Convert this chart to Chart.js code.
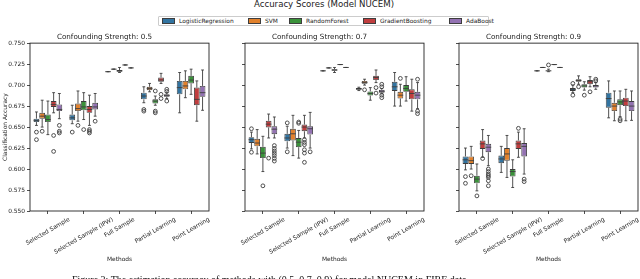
<!DOCTYPE html>
<html>
<head>
<meta charset="utf-8">
<script src="https://cdn.jsdelivr.net/npm/chart.js@4/dist/chart.umd.min.js"></script>
<style>
  html, body { margin: 0; padding: 0; background: #fff; }
  #page { position: relative; width: 640px; height: 279px; overflow: hidden; font-family: "DejaVu Sans", sans-serif; color: #222; }
  canvas { position: absolute; top: 30px; }
  #title { position: absolute; left: 0; width: 648px; top: -1px; text-align: center; font-size: 8.6px; line-height: 11px; }
  #legend { position: absolute; left: 158px; top: 16px; width: 329px; height: 8px; border: 0.7px solid #ccc; border-radius: 1px; font-size: 5.9px; line-height: 8px; }
  #legend span.item { position: absolute; top: 0; white-space: nowrap; }
  #legend span.patch { display: inline-block; width: 11px; height: 3.5px; border: 0.6px solid #3d3d3d; vertical-align: middle; margin-right: 4px; position: relative; top: -0.5px; }
  #caption { position: absolute; left: 72px; top: 274.5px; font-family: "Liberation Serif", serif; font-size: 10px; line-height: 10px; white-space: nowrap; color: #111; }
</style>
</head>
<body>
<div id="page">
  <div id="title">Accuracy Scores (Model NUCEM)</div>
  <div id="legend"></div>
  <canvas id="c1" width="212" height="249" style="left:0px"></canvas>
  <canvas id="c2" width="212" height="249" style="left:215px"></canvas>
  <canvas id="c3" width="212" height="249" style="left:429px"></canvas>
  <div id="caption">Figure 2: The estimation accuracy of methods with (0.5, 0.7, 0.9) for model NUCEM in FIRE data.</div>
</div>
<script>
const methods = ['Selected Sample', 'Selected Sample (IPW)', 'Full Sample', 'Partial Learning', 'Point Learning'];
const models = ['LogisticRegression', 'SVM', 'RandomForest', 'GradientBoosting', 'AdaBoost'];
const strengths = ['0.5', '0.7', '0.9'];
const yTicks = [0.55, 0.575, 0.6, 0.625, 0.65, 0.675, 0.7, 0.725, 0.75];

// [lower whisker, q1, median, q3, upper whisker] per method, one row per model
const box05 = [
  [[0.652, 0.656, 0.658, 0.660, 0.668], [0.654, 0.658, 0.661, 0.665, 0.676], [0.716, 0.716, 0.716, 0.716, 0.716], [0.679, 0.683, 0.687, 0.691, 0.698], [0.667, 0.689, 0.697, 0.705, 0.715]],
  [[0.650, 0.660, 0.663, 0.667, 0.682], [0.657, 0.669, 0.672, 0.678, 0.693], [0.719, 0.719, 0.719, 0.719, 0.719], [0.692, 0.694, 0.696, 0.698, 0.702], [0.685, 0.695, 0.699, 0.705, 0.717]],
  [[0.641, 0.656, 0.659, 0.665, 0.681], [0.659, 0.670, 0.674, 0.681, 0.691], [0.715, 0.716, 0.717, 0.718, 0.721], [0.676, 0.678, 0.681, 0.683, 0.687], [0.689, 0.702, 0.706, 0.711, 0.719]],
  [[0.667, 0.674, 0.677, 0.681, 0.691], [0.652, 0.667, 0.671, 0.675, 0.688], [0.724, 0.724, 0.724, 0.724, 0.724], [0.702, 0.704, 0.706, 0.709, 0.714], [0.657, 0.676, 0.683, 0.697, 0.705]],
  [[0.660, 0.669, 0.671, 0.677, 0.690], [0.663, 0.671, 0.674, 0.679, 0.690], [0.7205, 0.7205, 0.7205, 0.7205, 0.7205], [0.684, 0.686, 0.6875, 0.689, 0.691], [0.670, 0.686, 0.691, 0.699, 0.718]]
];
const fliers05 = [
  [[0.644, 0.635], [0.644], [], [0.671, 0.669], []],
  [[0.645], [0.652], [], [], []],
  [[], [0.647], [], [0.693, 0.669, 0.667], []],
  [[0.640, 0.621], [0.647, 0.645, 0.643], [], [0.689, 0.684], []],
  [[0.652, 0.645, 0.643], [0.657], [], [0.695, 0.6925, 0.681], []]
];

const box07 = [
  [[0.624, 0.631, 0.635, 0.638, 0.644], [0.625, 0.633, 0.637, 0.642, 0.651], [0.717, 0.717, 0.717, 0.717, 0.717], [0.6935, 0.6945, 0.6955, 0.6965, 0.6975], [0.675, 0.693, 0.698, 0.704, 0.715]],
  [[0.618, 0.627, 0.631, 0.636, 0.647], [0.616, 0.634, 0.642, 0.648, 0.664], [0.7205, 0.7205, 0.7205, 0.7205, 0.7205], [0.700, 0.7015, 0.703, 0.705, 0.707], [0.675, 0.684, 0.688, 0.692, 0.701]],
  [[0.597, 0.613, 0.619, 0.6265, 0.639], [0.613, 0.626, 0.632, 0.637, 0.646], [0.715, 0.717, 0.718, 0.719, 0.721], [0.682, 0.6875, 0.690, 0.6925, 0.697], [0.681, 0.692, 0.696, 0.700, 0.710]],
  [[0.637, 0.6495, 0.6535, 0.6575, 0.6655], [0.637, 0.645, 0.650, 0.653, 0.664], [0.7245, 0.7245, 0.7245, 0.7245, 0.7245], [0.703, 0.706, 0.709, 0.711, 0.718], [0.669, 0.683, 0.690, 0.695, 0.707]],
  [[0.637, 0.6415, 0.6475, 0.651, 0.662], [0.625, 0.641, 0.648, 0.651, 0.6675], [0.721, 0.721, 0.721, 0.721, 0.721], [0.6895, 0.691, 0.6926, 0.6944, 0.696], [0.672, 0.683, 0.688, 0.692, 0.703]]
];
const fliers07 = [
  [[0.648, 0.620], [0.655, 0.6205], [], [], []],
  [[], [], [], [0.6944], [0.708]],
  [[0.580], [0.656, 0.6545], [], [], []],
  [[0.613], [0.635, 0.6317, 0.629, 0.623, 0.619, 0.608], [], [0.697, 0.6905], []],
  [[0.628, 0.6245, 0.6215, 0.6187, 0.616, 0.6127, 0.6095], [0.6205], [], [0.701, 0.698, 0.688, 0.685], [0.707, 0.669, 0.666]]
];

const box09 = [
  [[0.599, 0.606, 0.611, 0.615, 0.625], [0.596, 0.607, 0.612, 0.616, 0.627], [0.717, 0.717, 0.717, 0.717, 0.717], [0.691, 0.693, 0.695, 0.6965, 0.700], [0.661, 0.673, 0.684, 0.691, 0.705]],
  [[0.600, 0.606, 0.610, 0.615, 0.627], [0.590, 0.610, 0.618, 0.625, 0.640], [0.721, 0.721, 0.721, 0.721, 0.721], [0.701, 0.704, 0.7055, 0.707, 0.711], [0.6575, 0.669, 0.675, 0.679, 0.693]],
  [[0.574, 0.583, 0.588, 0.592, 0.606], [0.578, 0.591, 0.597, 0.600, 0.611], [0.716, 0.7165, 0.717, 0.7175, 0.719], [0.694, 0.697, 0.699, 0.701, 0.704], [0.6625, 0.676, 0.680, 0.683, 0.693]],
  [[0.614, 0.624, 0.630, 0.634, 0.647], [0.614, 0.624, 0.630, 0.634, 0.644], [0.7245, 0.7245, 0.7245, 0.7245, 0.7245], [0.698, 0.701, 0.704, 0.706, 0.710], [0.6575, 0.675, 0.681, 0.685, 0.695]],
  [[0.604, 0.620, 0.626, 0.630, 0.640], [0.594, 0.615, 0.627, 0.631, 0.648], [0.721, 0.721, 0.721, 0.721, 0.721], [0.695, 0.697, 0.699, 0.700, 0.703], [0.658, 0.669, 0.675, 0.681, 0.693]]
];
const fliers09 = [
  [[0.591, 0.583], [], [], [0.702, 0.688], []],
  [[0.592], [], [], [0.698], []],
  [[0.568], [], [0.724], [0.688], [0.6595, 0.6575]],
  [[0.6125], [0.6485], [], [0.692], []],
  [[0.600, 0.597, 0.594, 0.592, 0.590, 0.586, 0.580], [0.588, 0.585], [], [0.707, 0.705], []]
];

const colors = ['#3274a1', '#e1812c', '#3a923a', '#c03d3e', '#9372b2'];
const edge = '#3d3d3d';
const font = '"DejaVu Sans", sans-serif';

// legend
const legendX = [3, 89, 130, 204, 290];
const legend = document.getElementById('legend');
models.forEach((m, i) => {
  const s = document.createElement('span');
  s.className = 'item';
  s.style.left = legendX[i] + 'px';
  s.innerHTML = '<span class="patch" style="background:' + colors[i] + '"></span>' + m;
  legend.appendChild(s);
});

// whiskers, medians, fliers, frame and rotated x labels
const boxPlugin = {
  id: 'boxes',
  afterDatasetsDraw(chart) {
    const ctx = chart.ctx;
    const y = chart.scales.y;
    ctx.save();
    ctx.strokeStyle = edge;
    ctx.lineWidth = 0.9;
    const line = (x1, y1, x2, y2) => { ctx.beginPath(); ctx.moveTo(x1, y1); ctx.lineTo(x2, y2); ctx.stroke(); };
    chart.data.datasets.forEach((ds, di) => {
      chart.getDatasetMeta(di).data.forEach((bar, mi) => {
        const s = ds.stats[mi];
        const x = bar.x, half = bar.width / 2;
        const pLo = y.getPixelForValue(s[0]), pQ1 = y.getPixelForValue(s[1]);
        const pMed = y.getPixelForValue(s[2]), pQ3 = y.getPixelForValue(s[3]);
        const pHi = y.getPixelForValue(s[4]);
        line(x, pQ1, x, pLo);
        line(x, pQ3, x, pHi);
        line(x - half / 2, pLo, x + half / 2, pLo);
        line(x - half / 2, pHi, x + half / 2, pHi);
        line(x - half, pMed, x + half, pMed);
        ds.fliers[mi].forEach(v => {
          ctx.beginPath();
          ctx.arc(x, y.getPixelForValue(v), 1.9, 0, Math.PI * 2);
          ctx.stroke();
        });
      });
    });
    ctx.restore();
  },
  afterDraw(chart) {
    const ctx = chart.ctx;
    const a = chart.chartArea;
    ctx.save();
    ctx.strokeStyle = '#222';
    ctx.lineWidth = 0.9;
    ctx.strokeRect(a.left, a.top, a.right - a.left, a.bottom - a.top);
    const xs = chart.scales.x;
    const th = Math.PI / 6;
    ctx.font = '5.9px ' + font;
    ctx.fillStyle = '#222';
    ctx.textAlign = 'center';
    ctx.textBaseline = 'middle';
    methods.forEach((m, i) => {
      const w = ctx.measureText(m).width;
      const bh = w * Math.sin(th) + 7 * Math.cos(th);
      ctx.save();
      ctx.translate(xs.getPixelForTick(i), a.bottom + 5 + bh / 2);
      ctx.rotate(-th);
      ctx.fillText(m, 0, 0);
      ctx.restore();
    });
    ctx.restore();
  }
};

function makeChart(id, strength, boxes, fliers, first) {
  new Chart(document.getElementById(id), {
    type: 'bar',
    data: {
      labels: methods,
      datasets: models.map((m, i) => ({
        label: m,
        data: boxes[i].map(s => [s[1], s[3]]),
        stats: boxes[i],
        fliers: fliers[i],
        backgroundColor: colors[i],
        borderColor: edge,
        borderWidth: 0.9,
        borderSkipped: false,
        categoryPercentage: 0.8,
        barPercentage: 1
      }))
    },
    options: {
      responsive: false,
      animation: false,
      devicePixelRatio: 1,
      layout: { padding: { top: 0, right: 3, bottom: 0, left: 0 } },
      plugins: {
        legend: { display: false },
        tooltip: { enabled: false },
        title: {
          display: true,
          text: 'Confounding Strength: ' + strength,
          color: '#222',
          font: { family: font, size: 7.2, weight: 'normal' },
          padding: { top: 2.5, bottom: 2 }
        }
      },
      scales: {
        x: {
          offset: true,
          border: { display: false },
          grid: { drawOnChartArea: false, offset: false, color: '#222', tickLength: 3, tickWidth: 0.8 },
          ticks: { display: false },
          title: { display: true, text: 'Methods', color: '#222', font: { family: font, size: 5.9 }, padding: { top: 0, bottom: 15.5 } },
          afterFit: s => { s.height = 68; }
        },
        y: {
          min: 0.55,
          max: 0.75,
          border: { display: false },
          afterBuildTicks: s => { s.ticks = yTicks.map(v => ({ value: v })); },
          grid: { drawOnChartArea: false, color: '#222', tickLength: 3, tickWidth: 0.8 },
          ticks: {
            display: first,
            padding: 2,
            color: '#222',
            font: { family: font, size: 5.9 },
            callback: v => v.toFixed(3)
          },
          title: { display: first, text: 'Classification Accuracy', color: '#222', font: { family: font, size: 5.9 }, padding: { top: 1.5, bottom: 0 } },
          afterFit: s => { s.width = 30; }
        }
      }
    },
    plugins: [boxPlugin]
  });
}

makeChart('c1', strengths[0], box05, fliers05, true);
makeChart('c2', strengths[1], box07, fliers07, false);
makeChart('c3', strengths[2], box09, fliers09, false);
</script>
</body>
</html>
